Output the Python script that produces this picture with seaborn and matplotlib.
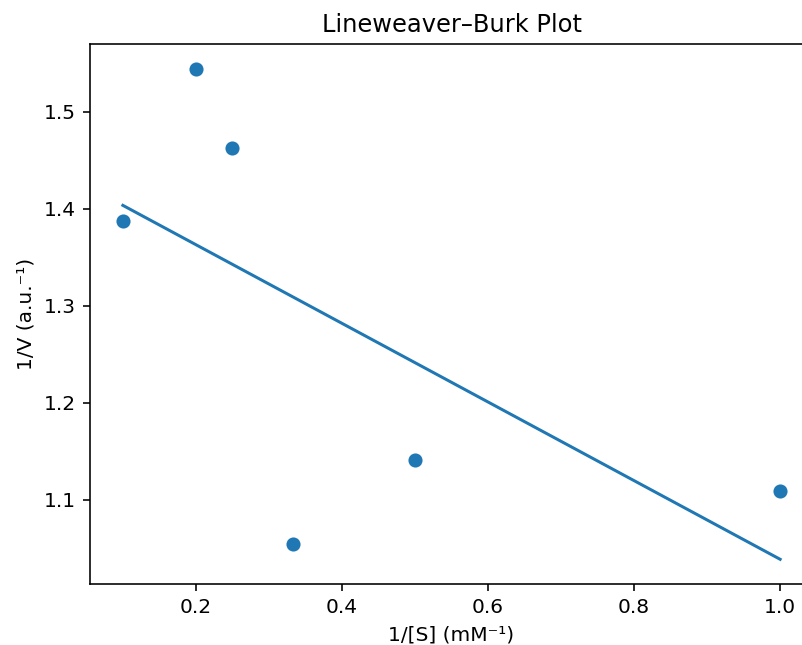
import numpy as np
import pandas as pd
import matplotlib
matplotlib.use("Agg")
import matplotlib.pyplot as plt
import seaborn as sns

# -------------------------
# Data
# -------------------------
inv_s = [0.1, 0.2, 0.25, 1 / 3, 0.5, 1.0]
inv_v = [1.387, 1.544, 1.463, 1.054, 1.141, 1.109]

df = pd.DataFrame({"inv_s": inv_s, "inv_v": inv_v})

# -------------------------
# Plot
# -------------------------
DPI = 145
fig = plt.figure(figsize=(802 / DPI, 645 / DPI), dpi=DPI)
# axes runs a little past the right edge of the canvas, as in the reference
ax = fig.add_axes([90 / 802, 61 / 645, 723 / 802, 540 / 645])

sns.regplot(
    data=df, x="inv_s", y="inv_v", ci=None, color="#1f77b4", ax=ax,
    scatter_kws={"s": 36, "alpha": 1, "linewidths": 1},
    line_kws={"linewidth": 1.5},
)

ax.set_xlim(0.055, 1.045)
ax.set_ylim(1.013, 1.570)
ax.spines["right"].set_visible(False)

ax.set_title("Lineweaver\u2013Burk Plot", fontsize=12)
ax.set_xlabel("1/[S] (mM\u207b\u00b9)")
ax.set_ylabel("1/V (a.u.\u207b\u00b9)")

fig.savefig("out.png", dpi=DPI)
